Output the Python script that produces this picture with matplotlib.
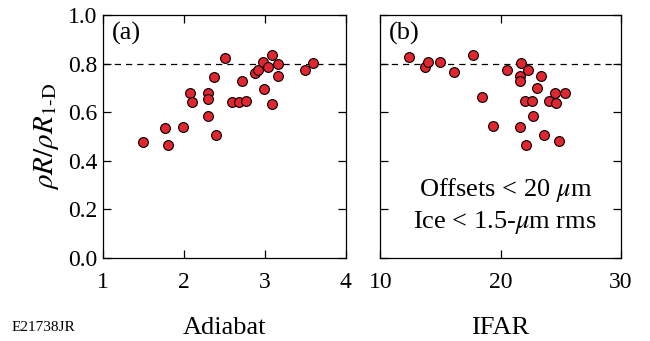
import numpy as np
import matplotlib
matplotlib.use("Agg")
from matplotlib import pyplot as plt

plt.rcParams['font.family'] = ['Liberation Serif', 'DejaVu Serif']
plt.rcParams['mathtext.fontset'] = 'stix'

# panel (a): adiabat vs rhoR/rhoR_1D
adiabat = [1.49, 1.76, 1.80, 1.99, 2.07, 2.10, 2.30, 2.30, 2.30, 2.40, 2.37, 2.50,
           2.59, 2.68, 2.76, 2.72, 2.88, 2.91, 2.98, 2.99, 3.04, 3.09, 3.16, 3.16,
           3.09, 3.49, 3.60]
rr_a = [0.477, 0.537, 0.464, 0.538, 0.677, 0.641, 0.677, 0.656, 0.584, 0.505, 0.745, 0.823,
        0.644, 0.644, 0.645, 0.727, 0.760, 0.773, 0.805, 0.695, 0.784, 0.836, 0.797, 0.747,
        0.634, 0.774, 0.804]

# panel (b): IFAR vs rhoR/rhoR_1D
ifar = [12.4, 13.7, 14.0, 15.0, 16.1, 17.7, 18.5, 19.4, 20.5, 21.7, 21.6, 21.6, 22.3,
        23.4, 23.0, 22.0, 22.6, 22.7, 21.6, 22.1, 23.6, 24.5, 24.0, 24.6, 25.4, 24.9]
rr_b = [0.827, 0.788, 0.807, 0.807, 0.767, 0.836, 0.662, 0.542, 0.775, 0.801, 0.751, 0.727,
        0.775, 0.748, 0.699, 0.648, 0.648, 0.586, 0.541, 0.466, 0.508, 0.679, 0.648, 0.636,
        0.679, 0.481]

fig = plt.figure(figsize=(6.5, 3.41), dpi=100)
ax1 = fig.add_axes([0.159, 0.2434, 0.373, 0.7126])
ax2 = fig.add_axes([0.585, 0.2434, 0.370, 0.7126])

red = '#e2262f'
for ax, x, y in [(ax1, adiabat, rr_a), (ax2, ifar, rr_b)]:
    ax.axhline(0.8, color='black', lw=0.9, ls=(0, (5, 4)), zorder=1)
    ax.scatter(x, y, s=50, c=red, edgecolors='black', linewidths=0.8, zorder=3)
    ax.set_ylim(0, 1.0)
    ax.set_yticks(np.arange(0, 1.01, 0.2))
    ax.tick_params(direction='in', length=6, width=0.9, top=True, right=True,
                   labelsize=17)
    ax.tick_params(axis='x', pad=10)
    ax.tick_params(axis='y', pad=4)
    for s in ax.spines.values():
        s.set_linewidth(0.9)

ax1.set_xlim(1, 4)
ax1.set_xticks([1, 2, 3, 4])
ax1.set_yticklabels(['0.0', '0.2', '0.4', '0.6', '0.8', '1.0'])
ax1.set_xlabel('Adiabat', fontsize=19, labelpad=17)
ax1.set_ylabel(r'$\rho R/\rho R_{\mathrm{1}\text{-}\mathrm{D}}$', fontsize=21, labelpad=5)
ax1.text(0.035, 0.97, '(a)', transform=ax1.transAxes, fontsize=19, va='top', ha='left')

ax2.set_xlim(10, 30)
ax2.set_xticks([10, 20, 30])
ax2.set_yticklabels([])
ax2.set_xlabel('IFAR', fontsize=19, labelpad=17)
ax2.text(0.035, 0.97, '(b)', transform=ax2.transAxes, fontsize=19, va='top', ha='left')
ax2.text(0.52, 0.215, 'Offsets < 20 $\\mu$m\nIce < 1.5-$\\mu$m rms', transform=ax2.transAxes,
         fontsize=19, ha='center', va='center', linespacing=1.25)

fig.text(0.018, 0.02, 'E21738JR', fontsize=11, ha='left', va='bottom')

fig.savefig('out.png', dpi=100)
